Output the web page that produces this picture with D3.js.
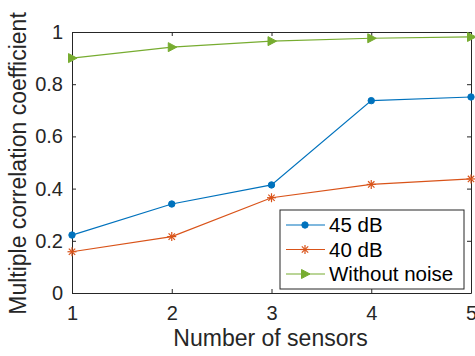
<!DOCTYPE html>
<html>
<head>
<meta charset="utf-8">
<script src="https://cdn.jsdelivr.net/npm/d3@7"></script>
<style>
  body { margin: 0; background: #fff; }
  svg { display: block; font-family: "Liberation Sans", Arial, sans-serif; }
</style>
</head>
<body>
<div id="chart"></div>
<script>
const sensors = [1, 2, 3, 4, 5];
const db45 = [0.222, 0.341, 0.414, 0.737, 0.751];
const db40 = [0.158, 0.216, 0.365, 0.416, 0.437];
const noNoise = [0.900, 0.942, 0.965, 0.976, 0.981];
const yTicks = [0, 0.2, 0.4, 0.6, 0.8, 1];
const seriesNames = ['45 dB', '40 dB', 'Without noise'];

const W = 475, H = 356;
const margin = { top: 32, right: 4, bottom: 63, left: 72 };
const width = W - margin.left - margin.right;
const height = H - margin.top - margin.bottom;
const axisColor = '#262626';

const svg = d3.select('#chart').append('svg')
  .attr('width', W)
  .attr('height', H);

const g = svg.append('g')
  .attr('transform', `translate(${margin.left},${margin.top})`);

const x = d3.scaleLinear().domain([1, 5]).range([0, width]);
const y = d3.scaleLinear().domain([0, 1]).range([height, 0]);

// axes (ticks point inward like matlab)
const xAxis = g.append('g')
  .attr('transform', `translate(0,${height})`)
  .call(d3.axisBottom(x).tickValues(sensors).tickFormat(d3.format('d'))
    .tickSizeInner(-4).tickSizeOuter(0).tickPadding(13));
const xTop = g.append('g')
  .call(d3.axisTop(x).tickValues(sensors).tickFormat('')
    .tickSizeInner(-4).tickSizeOuter(0));
const yAxis = g.append('g')
  .call(d3.axisLeft(y).tickValues(yTicks).tickFormat(d => d3.format('')(d))
    .tickSizeInner(-4).tickSizeOuter(0).tickPadding(9));
const yRight = g.append('g')
  .attr('transform', `translate(${width},0)`)
  .call(d3.axisRight(y).tickValues(yTicks).tickFormat('')
    .tickSizeInner(-4).tickSizeOuter(0));

[xAxis, xTop, yAxis, yRight].forEach(a => {
  a.selectAll('path').attr('stroke', axisColor).attr('stroke-width', 1);
  a.selectAll('line').attr('stroke', axisColor).attr('stroke-width', 1);
  a.selectAll('text').attr('fill', axisColor)
    .style('font-family', '"Liberation Sans", Arial, sans-serif')
    .style('font-size', '20px');
});

// series
const series = [
  { name: seriesNames[0], values: db45, color: '#0072BD', marker: 'circle' },
  { name: seriesNames[1], values: db40, color: '#D95319', marker: 'star' },
  { name: seriesNames[2], values: noNoise, color: '#77AC30', marker: 'triangle' }
];

const line = d3.line()
  .x((d, i) => x(sensors[i]))
  .y(d => y(d));

function drawMarker(sel, type, color) {
  if (type === 'circle') {
    sel.append('circle').attr('r', 3.2).attr('fill', color).attr('stroke', color);
  } else if (type === 'star') {
    const r = 4.5;
    [0, 45, 90, 135].forEach(a => {
      sel.append('line')
        .attr('x1', -r).attr('x2', r).attr('y1', 0).attr('y2', 0)
        .attr('transform', `rotate(${a})`)
        .attr('stroke', color).attr('stroke-width', 1.2);
    });
  } else {
    sel.append('path')
      .attr('d', 'M-3.5,-4.5 L5,0 L-3.5,4.5 Z')
      .attr('fill', color).attr('stroke', color);
  }
}

series.forEach(s => {
  g.append('path')
    .datum(s.values)
    .attr('fill', 'none')
    .attr('stroke', s.color)
    .attr('stroke-width', 1.2)
    .attr('d', line);
  s.values.forEach((v, i) => {
    const m = g.append('g').attr('transform', `translate(${x(sensors[i])},${y(v)})`);
    drawMarker(m, s.marker, s.color);
  });
});

// axis labels
svg.append('text')
  .attr('x', margin.left + width / 2 - 1)
  .attr('y', 346)
  .attr('text-anchor', 'middle')
  .attr('fill', axisColor)
  .style('font-size', '23px')
  .text('Number of sensors');

svg.append('text')
  .attr('transform', `translate(26,${margin.top + height / 2 + 1}) rotate(-90)`)
  .attr('text-anchor', 'middle')
  .attr('fill', axisColor)
  .style('font-size', '23px')
  .text('Multiple correlation coefficient');

// legend
const legend = svg.append('g').attr('transform', 'translate(280,210)');
legend.append('rect')
  .attr('width', 184).attr('height', 79)
  .attr('fill', '#fff').attr('stroke', axisColor).attr('stroke-width', 1);

series.forEach((s, i) => {
  const ly = 15 + i * 24.5;
  const row = legend.append('g').attr('transform', `translate(0,${ly})`);
  row.append('line')
    .attr('x1', 6).attr('x2', 45).attr('y1', 0).attr('y2', 0)
    .attr('stroke', s.color).attr('stroke-width', 1.2);
  drawMarker(row.append('g').attr('transform', 'translate(25,0)'), s.marker, s.color);
  row.append('text')
    .attr('x', 49).attr('y', 0).attr('dy', '0.35em')
    .attr('fill', '#000')
    .style('font-size', '20.5px')
    .text(s.name);
});
</script>
</body>
</html>
